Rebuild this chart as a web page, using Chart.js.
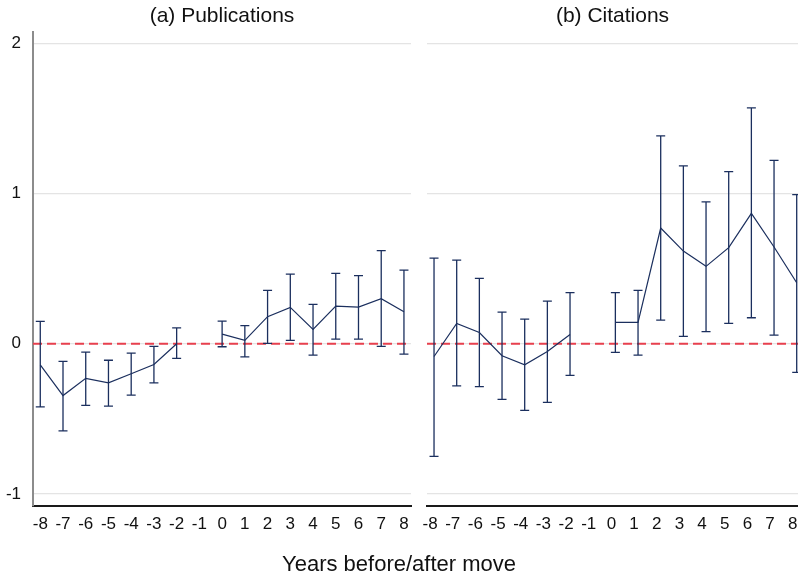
<!DOCTYPE html>
<html>
<head>
<meta charset="utf-8">
<script src="https://cdn.jsdelivr.net/npm/chart.js@4/dist/chart.umd.min.js"></script>
<style>
  html, body { margin: 0; padding: 0; background: #fff; }
  #wrap { position: relative; width: 798px; height: 576px; overflow: hidden; }
  .panel { position: absolute; top: 0; height: 576px; }
  #left { left: 0; width: 415px; }
  #right { left: 412px; width: 386px; }
  #xtitle {
    position: absolute; left: 0; width: 798px; top: 553px;
    text-align: center; font-family: "Liberation Sans", Arial, sans-serif;
    font-size: 22px; line-height: 22px; color: #111;
  }
</style>
</head>
<body>
<div id="wrap">
  <div class="panel" id="left"><canvas id="pubChart"></canvas></div>
  <div class="panel" id="right"><canvas id="citeChart"></canvas></div>
  <div id="xtitle">Years before/after move</div>
</div>
<script>
// Event-time axis: years relative to the move (no estimate at -1, the reference year)
const years = [-8, -7, -6, -5, -4, -3, -2, -1, 0, 1, 2, 3, 4, 5, 6, 7, 8];

// Panel (a): publications — point estimates and 95% confidence bounds
const pubCoef = [-0.14, -0.345, -0.23, -0.26, -0.20, -0.138, 0.0, null, 0.064, 0.022, 0.18, 0.242, 0.096, 0.251, 0.244, 0.30, 0.213];
const pubLow  = [-0.42, -0.58, -0.41, -0.415, -0.342, -0.26, -0.098, null, -0.02, -0.087, 0.003, 0.022, -0.076, 0.031, 0.031, -0.018, -0.069];
const pubHigh = [0.149, -0.118, -0.056, -0.11, -0.062, -0.018, 0.105, null, 0.15, 0.12, 0.355, 0.464, 0.262, 0.469, 0.453, 0.62, 0.49];

// Panel (b): citations
const citeCoef = [-0.085, 0.135, 0.075, -0.08, -0.14, -0.052, 0.062, null, 0.142, 0.142, 0.77, 0.617, 0.515, 0.64, 0.868, 0.644, 0.406];
const citeLow  = [-0.75, -0.28, -0.285, -0.37, -0.443, -0.39, -0.21, null, -0.058, -0.076, 0.157, 0.049, 0.08, 0.135, 0.173, 0.057, -0.19];
const citeHigh = [0.57, 0.556, 0.435, 0.21, 0.164, 0.284, 0.34, null, 0.34, 0.355, 1.384, 1.184, 0.944, 1.146, 1.57, 1.22, 0.993];

const FONT = "'Liberation Sans', Arial, sans-serif";
const NAVY = '#1b2f5e';

// Vertical confidence-interval whiskers with caps
const errorBars = {
  id: 'errorBars',
  afterDatasetsDraw(chart, args, opts) {
    const { ctx } = chart;
    const xs = chart.scales.x, ys = chart.scales.y;
    const cap = 4.5;
    ctx.save();
    ctx.strokeStyle = opts.color;
    ctx.lineWidth = opts.width;
    opts.low.forEach((lo, i) => {
      const hi = opts.high[i];
      if (lo == null || hi == null) return;
      const px = xs.getPixelForValue(opts.xs[i]);
      const y1 = ys.getPixelForValue(lo);
      const y2 = ys.getPixelForValue(hi);
      ctx.beginPath();
      ctx.moveTo(px, y1); ctx.lineTo(px, y2);
      ctx.moveTo(px - cap, y1); ctx.lineTo(px + cap, y1);
      ctx.moveTo(px - cap, y2); ctx.lineTo(px + cap, y2);
      ctx.stroke();
    });
    ctx.restore();
  }
};

// Dashed reference line at zero
const zeroLine = {
  id: 'zeroLine',
  beforeDatasetsDraw(chart) {
    const { ctx, chartArea } = chart;
    const py = chart.scales.y.getPixelForValue(0);
    ctx.save();
    ctx.strokeStyle = '#e8404e';
    ctx.lineWidth = 1.8;
    ctx.setLineDash([9, 5]);
    ctx.beginPath();
    ctx.moveTo(chartArea.left, py);
    ctx.lineTo(chartArea.right, py);
    ctx.stroke();
    ctx.restore();
  }
};

function makePanel(id, title, coef, low, high, cfg) {
  const pts = years.map((yr, i) => ({ x: yr, y: coef[i] }));
  return new Chart(document.getElementById(id), {
    type: 'line',
    data: {
      datasets: [{
        data: pts,
        borderColor: NAVY,
        borderWidth: 1.2,
        pointRadius: 0,
        spanGaps: false,
        tension: 0
      }]
    },
    plugins: [zeroLine, errorBars],
    options: {
      responsive: true,
      maintainAspectRatio: false,
      animation: false,
      layout: { padding: { left: 0, right: cfg.padRight, top: 0, bottom: 0 } },
      plugins: {
        legend: { display: false },
        tooltip: { enabled: false },
        title: {
          display: true,
          text: title,
          fullSize: false,
          color: '#111',
          font: { family: FONT, size: 21, weight: 'normal', lineHeight: 1.2 },
          padding: { top: 4, bottom: 2.8 }
        },
        errorBars: { xs: years, low: low, high: high, color: NAVY, width: 1.3 }
      },
      scales: {
        x: {
          type: 'linear',
          min: cfg.xMin,
          max: cfg.xMax,
          afterFit(scale) {
            scale.height = 70;
            scale.paddingLeft = 0;
            scale.paddingRight = 0;
          },
          grid: { display: false, drawTicks: false },
          border: { display: true, color: '#1a1a1a', width: 2 },
          ticks: {
            stepSize: 1,
            includeBounds: false,
            autoSkip: false,
            maxRotation: 0,
            padding: 8,
            labelOffset: cfg.labelOffset,
            color: '#111',
            font: { family: FONT, size: 17, lineHeight: 1.2 }
          }
        },
        y: {
          min: -1.08,
          max: 2.075,
          afterFit(scale) {
            scale.width = cfg.yWidth;
            scale.paddingTop = 0;
            scale.paddingBottom = 0;
          },
          grid: { color: '#e4e4e4', lineWidth: 1.2, drawTicks: false },
          border: { display: cfg.showY, color: '#8c8c8c', width: 2 },
          ticks: {
            display: cfg.showY,
            stepSize: 1,
            includeBounds: false,
            padding: 12,
            color: '#111',
            font: { family: FONT, size: 17 }
          }
        }
      }
    }
  });
}

makePanel('pubChart', '(a) Publications', pubCoef, pubLow, pubHigh,
  { xMin: -8.32, xMax: 8.31, yWidth: 33, showY: true, padRight: 4, labelOffset: 0 });
makePanel('citeChart', '(b) Citations', citeCoef, citeLow, citeHigh,
  { xMin: -8.31, xMax: 8.057, yWidth: 15, showY: false, padRight: 0, labelOffset: -4 });
</script>
</body>
</html>
